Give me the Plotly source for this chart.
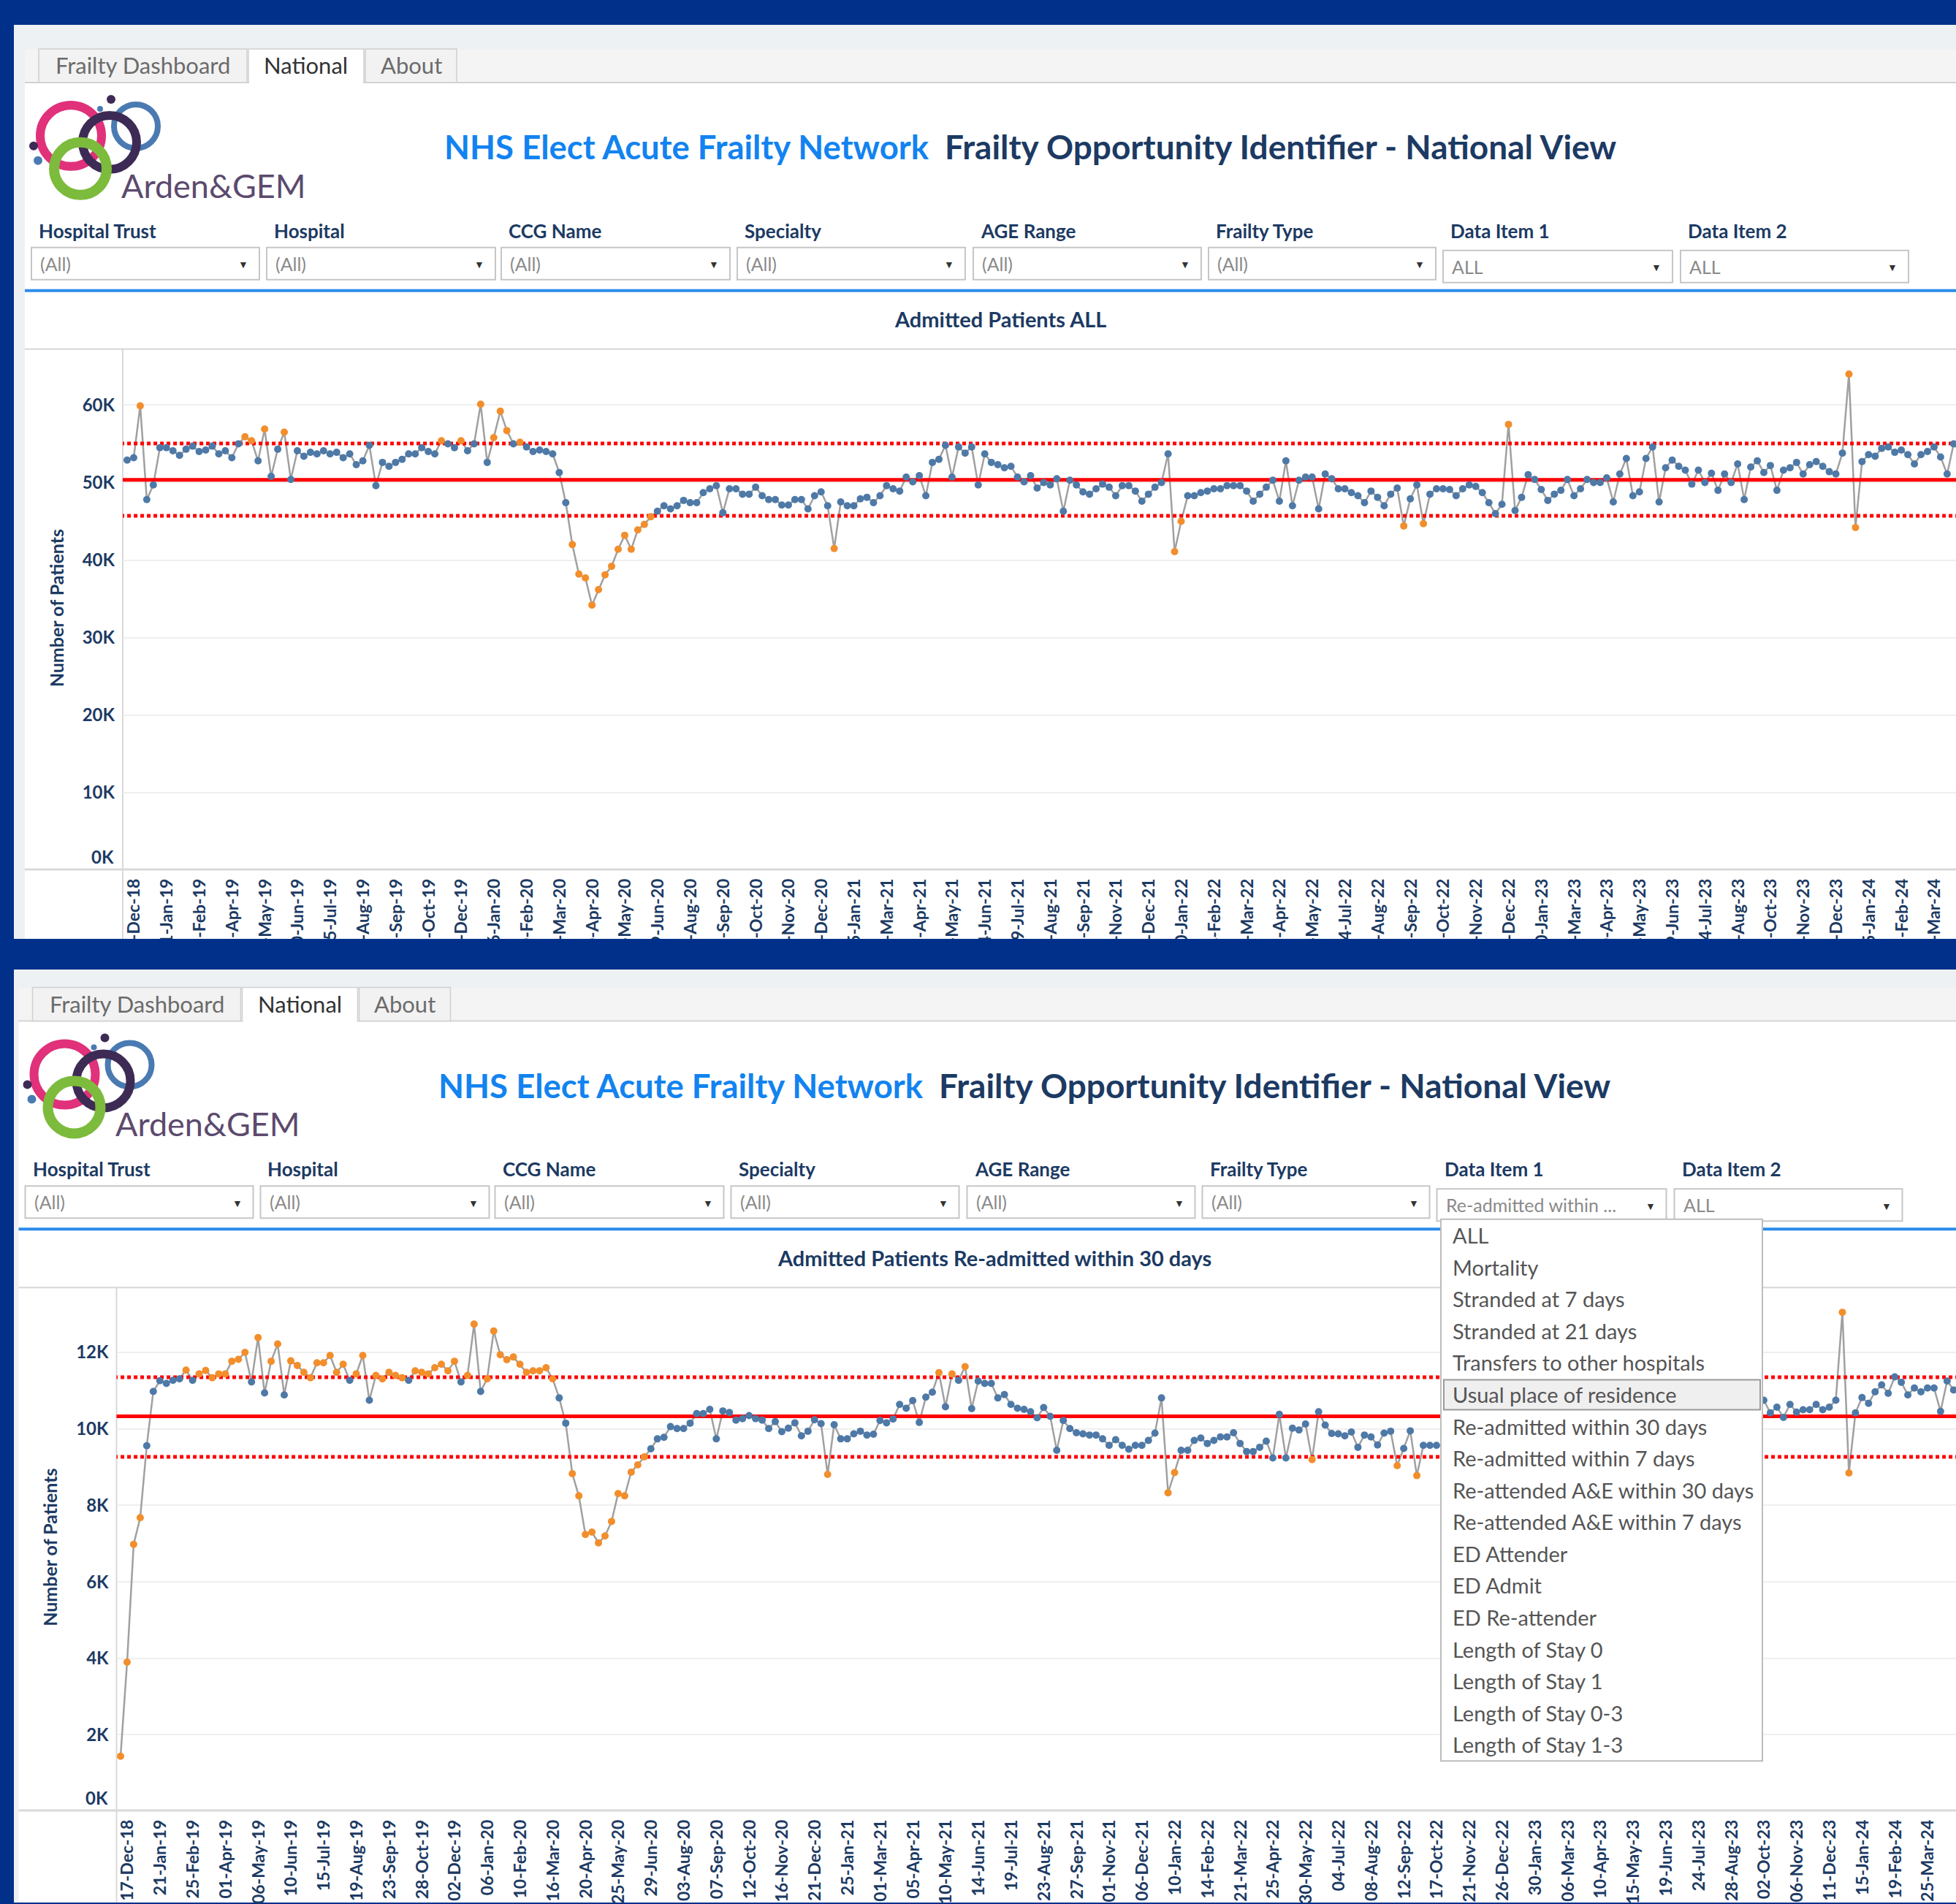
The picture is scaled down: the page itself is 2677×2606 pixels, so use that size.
import plotly.graph_objects as go
import pandas as pd

W, H = 2677, 2606

# ---------------------------------------------------------------- data
week_start = pd.date_range("2018-12-17", periods=281, freq="7D")
tick_positions = list(range(0, 276, 5))
tick_labels = [week_start[i].strftime("%d-%b-%y") for i in tick_positions]

# Admitted Patients ALL - weekly number of patients (thousands)
admitted_all_k = [
    52.9, 53.2, 59.9, 47.8, 49.7, 54.5, 54.5, 54.1, 53.5, 54.3,
    54.7, 54.0, 54.2, 54.7, 53.7, 54.1, 53.2, 55.0, 55.9, 55.4,
    52.8, 56.9, 50.8, 54.3, 56.5, 50.4, 54.1, 53.4, 53.9, 53.7,
    54.1, 53.7, 53.9, 53.2, 53.7, 52.3, 52.8, 54.8, 49.6, 52.6,
    52.1, 52.6, 53.0, 53.7, 53.7, 54.5, 54.0, 53.7, 55.4, 55.0,
    54.5, 55.4, 54.1, 55.0, 60.1, 52.6, 55.8, 59.2, 56.7, 55.0,
    55.2, 54.6, 54.0, 54.2, 54.0, 53.7, 51.3, 47.4, 42.0, 38.2,
    37.7, 34.2, 36.2, 38.1, 39.2, 41.4, 43.2, 41.4, 43.9, 44.6,
    45.6, 46.3, 47.0, 46.6, 47.0, 47.7, 47.4, 47.4, 48.7, 49.2,
    49.6, 46.1, 49.2, 49.2, 48.5, 48.5, 49.4, 48.3, 47.8, 47.8,
    47.1, 47.1, 47.8, 47.8, 46.6, 48.3, 48.8, 47.0, 41.5, 47.5,
    47.0, 47.0, 47.9, 48.1, 47.4, 48.3, 49.6, 49.2, 48.9, 50.7,
    50.1, 50.9, 48.3, 52.6, 53.0, 54.8, 50.7, 54.6, 53.8, 54.6,
    49.7, 53.7, 52.6, 52.3, 51.9, 52.1, 50.7, 50.1, 50.9, 49.3,
    50.0, 49.7, 50.5, 46.3, 50.3, 49.7, 48.8, 48.5, 49.2, 49.8,
    49.4, 48.3, 49.6, 49.6, 48.9, 47.6, 48.5, 49.4, 50.0, 53.7,
    41.1, 45.0, 48.3, 48.3, 48.7, 48.9, 49.2, 49.2, 49.6, 49.6,
    49.6, 48.9, 47.6, 48.5, 49.4, 50.3, 47.6, 52.8, 47.0, 50.3,
    50.7, 50.7, 46.6, 51.1, 50.5, 49.2, 49.2, 48.7, 48.3, 47.4,
    48.9, 48.1, 47.0, 48.5, 49.3, 44.4, 47.9, 49.7, 44.7, 48.5,
    49.2, 49.2, 49.1, 48.3, 49.2, 49.7, 49.5, 48.7, 47.4, 46.0,
    47.2, 57.5, 46.4, 48.1, 51.0, 50.4, 49.1, 47.7, 48.5, 49.0,
    50.4, 48.3, 49.2, 50.4, 50.0, 50.0, 50.6, 47.5, 51.1, 53.1,
    48.3, 48.8, 53.1, 54.6, 47.5, 51.9, 52.9, 52.1, 51.6, 49.8,
    51.6, 50.0, 51.2, 49.0, 51.1, 50.0, 52.4, 47.8, 52.0, 52.8,
    51.3, 52.2, 49.0, 51.6, 51.9, 52.6, 51.1, 52.3, 52.7, 52.1,
    51.4, 51.1, 53.8, 64.0, 44.2, 52.7, 53.6, 53.4, 54.4, 54.6,
    53.9, 54.2, 53.6, 52.4, 53.6, 54.0, 54.6, 53.3, 51.1, 55.0,
    53.9,
]
admitted_all_signals = [2, 18, 19, 21, 24, 48, 51, 54, 56, 57, 58, 60,
                        68, 69, 70, 71, 72, 73, 74, 75, 76, 77, 78, 79, 80,
                        108, 160, 161, 195, 198, 211, 263, 264]
admitted_all_mean_k = 50.35
admitted_all_ucl_k = 55.05
admitted_all_lcl_k = 45.70

# Admitted Patients Re-admitted within 30 days (thousands); weeks hidden
# behind the open drop-down list are unknown (None)
readmit30_k = [
    1.44, 3.90, 6.98, 7.68, 9.56, 10.98, 11.26, 11.19, 11.27, 11.31,
    11.54, 11.27, 11.44, 11.53, 11.34, 11.44, 11.44, 11.77, 11.82, 12.00,
    11.23, 12.39, 10.94, 11.77, 12.22, 10.89, 11.78, 11.66, 11.48, 11.34,
    11.73, 11.73, 11.92, 11.48, 11.69, 11.27, 11.44, 11.92, 10.75, 11.40,
    11.31, 11.48, 11.40, 11.34, 11.27, 11.52, 11.48, 11.44, 11.60, 11.69,
    11.52, 11.77, 11.23, 11.40, 12.74, 10.98, 11.31, 12.56, 11.94, 11.81,
    11.88, 11.69, 11.48, 11.52, 11.52, 11.60, 11.31, 10.81, 10.15, 8.83,
    8.25, 7.24, 7.30, 7.02, 7.20, 7.58, 8.31, 8.25, 8.87, 9.06,
    9.27, 9.48, 9.74, 9.78, 10.06, 10.01, 10.01, 10.15, 10.40, 10.40,
    10.51, 9.74, 10.47, 10.43, 10.23, 10.27, 10.35, 10.27, 10.23, 10.01,
    10.19, 9.93, 10.02, 10.16, 9.82, 9.94, 10.24, 10.14, 8.81, 10.11,
    9.74, 9.74, 9.87, 9.94, 9.84, 9.86, 10.22, 10.16, 10.26, 10.64,
    10.54, 10.74, 10.17, 10.83, 10.96, 11.47, 10.58, 11.44, 11.27, 11.63,
    10.53, 11.25, 11.19, 11.19, 10.81, 10.90, 10.64, 10.54, 10.51, 10.45,
    10.29, 10.56, 10.33, 9.44, 10.22, 10.01, 9.90, 9.87, 9.84, 9.84,
    9.74, 9.57, 9.72, 9.57, 9.47, 9.57, 9.57, 9.70, 9.89, 10.81,
    8.33, 8.86, 9.44, 9.44, 9.70, 9.76, 9.62, 9.70, 9.79, 9.79,
    9.90, 9.62, 9.41, 9.41, 9.52, 9.68, 9.24, 10.38, 9.24, 10.02,
    9.97, 10.13, 9.20, 10.45, 10.10, 9.88, 9.87, 9.82, 9.92, 9.52,
    9.84, 9.79, 9.58, 9.89, 9.94, 9.04, 9.49, 9.95, 8.78, 9.57,
    9.57, 9.57,
] + [None] * 49 + [
    10.75, 10.42, 10.57, 10.30, 10.64, 10.44, 10.50, 10.50, 10.64, 10.50,
    10.57, 10.75, 13.05, 8.85, 10.42, 10.82, 10.67, 10.97, 11.15, 10.93,
    11.36, 11.22, 10.89, 11.07, 10.97, 11.07, 11.07, 10.46, 11.25, 11.02,
]
readmit30_signals = [0, 1, 2, 3, 10, 12, 13, 14, 15, 16, 17, 18, 19, 21, 23, 24,
                     26, 27, 28, 29, 30, 31, 32, 33, 34, 36, 37, 39, 40, 41, 42,
                     43, 45, 46, 47, 48, 49, 50, 51, 53, 54, 56, 57, 58, 59, 60,
                     61, 62, 63, 64, 65, 66, 69, 70, 71, 72, 73, 74, 75, 76, 77,
                     78, 79, 80, 108, 125, 127, 129, 160, 161, 182, 195, 198,
                     263, 264]
readmit30_mean_k = 10.33
readmit30_ucl_k = 11.35
readmit30_lcl_k = 9.27

y1_tickvals = [10000, 20000, 30000, 40000, 50000, 60000]
y1_ticktext = ["10K", "20K", "30K", "40K", "50K", "60K"]
y2_tickvals = [2000, 4000, 6000, 8000, 10000, 12000]
y2_ticktext = ["2K", "4K", "6K", "8K", "10K", "12K"]

tab_names = ["Frailty Dashboard", "National", "About"]
filter_names = ["Hospital Trust", "Hospital", "CCG Name", "Specialty",
                "AGE Range", "Frailty Type", "Data Item 1", "Data Item 2"]
panel1_filter_values = ["(All)"] * 6 + ["ALL", "ALL"]
panel2_filter_values = ["(All)"] * 6 + ["Re-admitted within ...", "ALL"]
data_item_options = ["ALL", "Mortality", "Stranded at 7 days", "Stranded at 21 days",
                     "Transfers to other hospitals", "Usual place of residence",
                     "Re-admitted within 30 days", "Re-admitted within 7 days",
                     "Re-attended A&E within 30 days", "Re-attended A&E within 7 days",
                     "ED Attender", "ED Admit", "ED Re-attender", "Length of Stay 0",
                     "Length of Stay 1", "Length of Stay 0-3", "Length of Stay 1-3"]
chart1_title = "Admitted Patients ALL"
chart2_title = "Admitted Patients Re-admitted within 30 days"

# ---------------------------------------------------------------- styling
NHS_BLUE = "#00308A"
NAVY = "#1c3a63"
BRIGHT = "#1283f0"
FONT = "Lato"
BLUE_PT = "#4e79a7"
ORANGE_PT = "#f28e2b"

shapes = []
ann = []


def px(x):
    return x / W


def py(y):
    return 1 - y / H


def rect(x0, y0, x1, y1, fill=None, line=None, lw=0, layer="below"):
    shapes.append(dict(type="rect", xref="paper", yref="paper",
                       x0=px(x0), x1=px(x1), y0=py(y1), y1=py(y0),
                       fillcolor=fill if fill else "rgba(0,0,0,0)",
                       line=dict(color=line if line else "rgba(0,0,0,0)", width=lw),
                       layer=layer))


def hline(x0, x1, y, color, lw, layer="below"):
    shapes.append(dict(type="line", xref="paper", yref="paper",
                       x0=px(x0), x1=px(x1), y0=py(y), y1=py(y),
                       line=dict(color=color, width=lw), layer=layer))


def vline(x, y0, y1, color, lw, layer="below"):
    shapes.append(dict(type="line", xref="paper", yref="paper",
                       x0=px(x), x1=px(x), y0=py(y0), y1=py(y1),
                       line=dict(color=color, width=lw), layer=layer))


def ring(cx, cy, r, color, lw):
    shapes.append(dict(type="circle", xref="paper", yref="paper",
                       x0=px(cx - r), x1=px(cx + r), y0=py(cy + r), y1=py(cy - r),
                       line=dict(color=color, width=lw), layer="below"))


def dot(cx, cy, r, color):
    shapes.append(dict(type="circle", xref="paper", yref="paper",
                       x0=px(cx - r), x1=px(cx + r), y0=py(cy + r), y1=py(cy - r),
                       fillcolor=color, line=dict(width=0), layer="below"))


def text(x, y, s, size, color, bold=False, xanchor="left", angle=0, family=FONT):
    ann.append(dict(xref="paper", yref="paper", x=px(x), y=py(y), text=s,
                    showarrow=False, xanchor=xanchor, yanchor="middle",
                    textangle=angle,
                    font=dict(family=family, size=size, color=color,
                              weight="bold" if bold else "normal")))


def panel(dx, dy, top, strip_x, values, title):
    bottom = H if dy > 0 else 1286
    rect(19, top, W, bottom, fill="#eef1f3")
    rect(strip_x, 68 + dy, W, 113 + dy, fill="#f4f4f4")
    hline(strip_x, W, 113 + dy, "#d2d2d2", 2)
    rect(strip_x, 114 + dy, W, bottom, fill="#ffffff")
    # tabs
    tab_x = [(53, 338), (340, 498), (500, 625)]
    for i, (a, b) in enumerate(tab_x):
        sel = tab_names[i] == "National"
        rect(a + dx, 67 + dy, b + dx, 113 + dy,
             fill="#ffffff" if sel else "#f2f2f2", line="#d0d0d0", lw=1.5)
        text((a + b) / 2 + dx, 89 + dy, tab_names[i], 31,
             "#333333" if sel else "#6b6b6b", xanchor="center")
    rect(341 + dx, 110 + dy, 497 + dx, 116 + dy, fill="#ffffff")
    # logo
    lx, ly = dx, dy
    ring(97 + lx, 186 + ly, 42, "#e0317a", 12)
    ring(186 + lx, 173 + ly, 30, "#4a7ab2", 8)
    ring(150 + lx, 195 + ly, 37, "#3d2b55", 12)
    ring(110 + lx, 231 + ly, 36, "#7dbb3c", 14)
    dot(152 + lx, 136 + ly, 6, "#3d2b55")
    dot(137 + lx, 149 + ly, 4, "#4a7ab2")
    dot(46 + lx, 200 + ly, 6, "#3d2b55")
    dot(52 + lx, 220 + ly, 6, "#4a7ab2")
    text(164 + lx, 254 + ly, "Arden&amp;GEM", 45, "#5c4a6e")
    # title
    text(606 + dx, 201 + dy, "NHS Elect Acute Frailty Network", 45.5, BRIGHT, bold=True)
    text(1291 + dx, 201 + dy, "Frailty Opportunity Identifier - National View", 46,
         NAVY, bold=True)
    # filters
    box_x = [(43, 355), (365, 678), (686, 999), (1009, 1321),
             (1332, 1644), (1654, 1965), (1975, 2289), (2300, 2612)]
    for i, (a, b) in enumerate(box_x):
        text(a + 8 + dx, 316 + dy, filter_names[i], 26, NAVY, bold=True)
        y0 = 339 if i < 6 else 343
        rect(a + dx, y0 + dy, b + dx, y0 + 44 + dy, fill="#ffffff", line="#c6c6c6", lw=2)
        text(a + 10 + dx, y0 + 22 + dy, values[i], 25, "#8a8a8a")
        text(b - 22 + dx, y0 + 23 + dy, "\u25BC", 14, "#333333", xanchor="center")
    # blue separator and chart frame
    hline(strip_x, W, 398 + dy, "#2b8ceb", 4)
    text(1369 + dx, 437 + dy, title, 29, NAVY, bold=True, xanchor="center")
    hline(strip_x, W, 478 + dy, "#d6d6d6", 2)


panel(0, 0, 34, 34, panel1_filter_values, chart1_title)
panel(-8.5, 1285.6, 1328, 25.5, panel2_filter_values, chart2_title)

# axes frame lines
vline(168, 478, 1286, "#d9d9d9", 2)
hline(34, W, 1191, "#d9d9d9", 3)
vline(159.5, 1764, H, "#d9d9d9", 2)
hline(25.5, W, 2480, "#d9d9d9", 3)

# axis titles and the shifted 0K labels
text(77, 833, "Number of Patients", 25, NAVY, bold=True, xanchor="center", angle=-90)
text(68.5, 2120, "Number of Patients", 25, NAVY, bold=True, xanchor="center", angle=-90)
text(158, 1173, "0K", 24, NAVY, bold=True, xanchor="right")
text(149.5, 2462, "0K", 24, NAVY, bold=True, xanchor="right")

# blue band between the two screenshots (covers tick-label overflow)
rect(0, 1286, W, 1328, fill=NHS_BLUE, layer="above")
rect(0, 1286, 19, H, fill=NHS_BLUE, layer="above")

# open drop-down list (panel 2, Data Item 1)
rect(1972, 1670, 2412, 2412, fill="#ffffff", line="#bdbdbd", lw=2, layer="above")
rect(1976, 1890, 2409, 1931, fill="#efefef", line="#9a9a9a", lw=2, layer="above")
for k, opt in enumerate(data_item_options):
    text(1986, 1692 + 43.6 * k, opt.replace("&", "&amp;"), 29, "#555555")

# ---------------------------------------------------------------- traces
fig = go.Figure()


def add_chart(values_k, signals, mean_k, ucl_k, lcl_k, xa, ya):
    n = len(values_k)
    y = [v * 1000 if v is not None else None for v in values_k]
    xs = list(range(n))
    fig.add_trace(go.Scatter(x=xs, y=y, mode="lines", xaxis=xa, yaxis=ya,
                             line=dict(color="#a0a0a0", width=2.5), connectgaps=False,
                             hoverinfo="skip"))
    for val, dash, w in [(ucl_k, "5px,4px", 5), (lcl_k, "5px,4px", 5),
                         (mean_k, "solid", 5)]:
        fig.add_trace(go.Scatter(x=[-2, n + 2], y=[val * 1000] * 2, mode="lines",
                                 xaxis=xa, yaxis=ya,
                                 line=dict(color="#ff0000", width=w, dash=dash),
                                 hoverinfo="skip"))
    sig = set(signals)
    bx = [i for i in xs if y[i] is not None and i not in sig]
    ox = [i for i in xs if y[i] is not None and i in sig]
    fig.add_trace(go.Scatter(x=bx, y=[y[i] for i in bx], mode="markers", xaxis=xa,
                             yaxis=ya, marker=dict(color=BLUE_PT, size=10, line=dict(width=0))))
    fig.add_trace(go.Scatter(x=ox, y=[y[i] for i in ox], mode="markers", xaxis=xa,
                             yaxis=ya, marker=dict(color=ORANGE_PT, size=10, line=dict(width=0))))


add_chart(admitted_all_k, admitted_all_signals, admitted_all_mean_k,
          admitted_all_ucl_k, admitted_all_lcl_k, "x", "y")
add_chart(readmit30_k, readmit30_signals, readmit30_mean_k,
          readmit30_ucl_k, readmit30_lcl_k, "x2", "y2")

STEP = 8.96
xaxis_common = dict(tickvals=tick_positions, ticktext=tick_labels, tickangle=-90,
                    tickfont=dict(family=FONT, size=23, color=NAVY, weight="bold"),
                    showgrid=False, zeroline=False, showline=False, ticks="",
                    ticklabelshift=10, ticklabelstandoff=6)
yaxis_common = dict(tickfont=dict(family=FONT, size=24, color=NAVY, weight="bold"),
                    showgrid=True, gridcolor="#efefef", gridwidth=2, zeroline=False,
                    showline=False, ticks="", ticklabelstandoff=10)

fig.update_layout(
    width=W, height=H, margin=dict(l=0, r=0, t=0, b=0),
    paper_bgcolor=NHS_BLUE, plot_bgcolor="rgba(0,0,0,0)", showlegend=False,
    xaxis=dict(domain=[px(168), 1], range=[-6 / STEP, (W - 174) / STEP],
               anchor="y", **xaxis_common),
    yaxis=dict(domain=[py(1192), py(478)], range=[0, 67230], anchor="x",
               tickvals=y1_tickvals, ticktext=y1_ticktext, **yaxis_common),
    xaxis2=dict(domain=[px(159.5), 1], range=[-5.5 / STEP, (W - 165) / STEP],
                anchor="y2", **xaxis_common),
    yaxis2=dict(domain=[py(2481), py(1764)], range=[0, 13690], anchor="x2",
                tickvals=y2_tickvals, ticktext=y2_ticktext, **yaxis_common),
    shapes=shapes, annotations=ann,
)

fig.write_html("out.html", config={"displayModeBar": False},
               post_script="document.body.style.margin='0px';"
                           "document.body.style.overflow='hidden';")
